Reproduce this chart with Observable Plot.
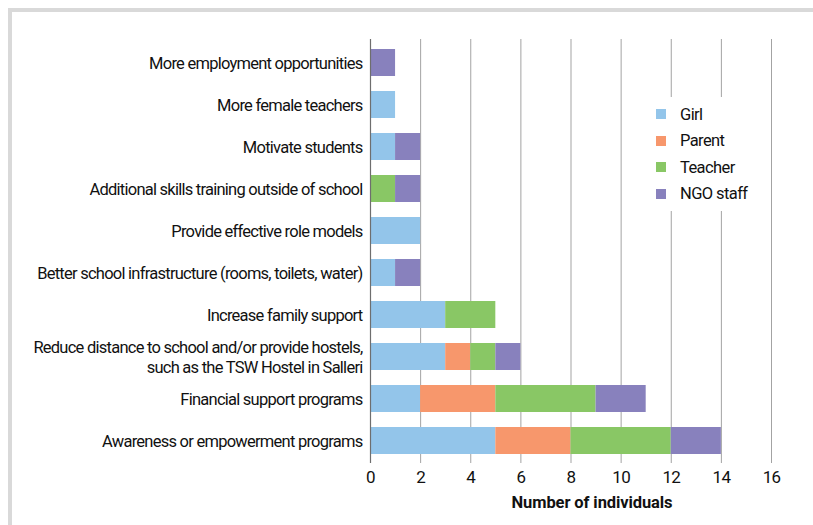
<!DOCTYPE html>
<html>
<head>
<meta charset="utf-8">
<script src="https://cdn.jsdelivr.net/npm/d3@7"></script>
<script src="https://cdn.jsdelivr.net/npm/@observablehq/plot@0.6"></script>
<style>
  html, body { margin: 0; padding: 0; background: #fff; overflow: hidden; width: 813px; height: 525px; }
  #wrap { position: relative; width: 813px; height: 525px; }
  #frame { position: absolute; left: 8px; top: 8px; width: 900px; height: 600px; border-left: 4px solid #d9d9d9; border-top: 4px solid #d9d9d9; box-sizing: border-box; }
  #chart { position: absolute; left: 0; top: 0; }
  #legend { position: absolute; left: 640px; top: 97px; width: 122px; height: 114px; background: #fff; font-family: Roboto, sans-serif; font-size: 16.5px; letter-spacing: -0.6px; color: #111; }
  .item { position: absolute; left: 16px; height: 20px; display: flex; align-items: center; }
  .sw { width: 10px; height: 10px; margin-right: 14px; }
</style>
</head>
<body>
<div id="wrap">
  <div id="frame"></div>
  <div id="chart"></div>
  <div id="legend"></div>
</div>
<script>
const categories = [
  "More employment opportunities",
  "More female teachers",
  "Motivate students",
  "Additional skills training outside of school",
  "Provide effective role models",
  "Better school infrastructure (rooms, toilets, water)",
  "Increase family support",
  "Reduce distance to school and/or provide hostels,\nsuch as the TSW Hostel in Salleri",
  "Financial support programs",
  "Awareness or empowerment programs"
];
const seriesNames = ["Girl", "Parent", "Teacher", "NGO staff"];
const girl    = [0, 1, 1, 0, 2, 1, 3, 3, 2, 5];
const parent  = [0, 0, 0, 0, 0, 0, 0, 1, 3, 3];
const teacher = [0, 0, 0, 1, 0, 0, 2, 1, 4, 4];
const ngo     = [1, 0, 1, 1, 0, 1, 0, 1, 2, 2];
const xTicks = [0, 2, 4, 6, 8, 10, 12, 14, 16];
const colors = ["#93c5ea", "#f7976c", "#89c765", "#8881bd"];
const xTitle = "Number of individuals";

const series = [girl, parent, teacher, ngo];
const rows = [];
categories.forEach((c, i) => {
  seriesNames.forEach((s, j) => {
    rows.push({category: c, series: s, value: series[j][i]});
  });
});

const font = `Roboto, sans-serif`;

const chart = Plot.plot({
  width: 813,
  height: 525,
  marginLeft: 370,
  marginRight: 42,
  marginTop: 39,
  marginBottom: 62,
  style: {fontFamily: font, fontSize: "16.5px", letterSpacing: "-0.75px", color: "#111", background: "transparent"},
  x: {domain: [0, 16], ticks: xTicks},
  y: {domain: categories, paddingInner: 0.36, paddingOuter: 0.18},
  color: {domain: seriesNames, range: colors},
  marks: [
    Plot.gridX(xTicks, {stroke: "#a3a3a3", strokeOpacity: 1, strokeWidth: 1}),
    Plot.barX(rows, Plot.stackX({
      x: "value", y: "category", fill: "series", order: seriesNames
    })),
    Plot.ruleX([0], {stroke: "#6e6e6e", strokeWidth: 1.2}),
    Plot.ruleY([0], {frameAnchor: "bottom", stroke: "#8c8c8c", strokeWidth: 1.2}),
    Plot.axisX({ticks: xTicks, tickSize: 0, tickPadding: 7, label: null, fontSize: 17}),
    Plot.axisY({tickSize: 0, tickPadding: 8, label: null, fontSize: 16.5, lineHeight: 1.2}),
    Plot.text([xTitle], {frameAnchor: "bottom", dx: 21, dy: 44, fontWeight: "bold", fontSize: 16.5, fill: "#111"})
  ]
});
d3.select(chart).selectAll("text").filter(function() { return this.textContent === xTitle; })
  .style("letter-spacing", "-0.1px");
document.getElementById("chart").appendChild(chart);

const legend = document.getElementById("legend");
seriesNames.forEach((s, i) => {
  const item = document.createElement("div");
  item.className = "item";
  item.style.top = (7 + i * 26.5) + "px";
  const sw = document.createElement("div");
  sw.className = "sw";
  sw.style.background = colors[i];
  const lab = document.createElement("span");
  lab.textContent = s;
  item.appendChild(sw);
  item.appendChild(lab);
  legend.appendChild(item);
});
</script>
</body>
</html>
